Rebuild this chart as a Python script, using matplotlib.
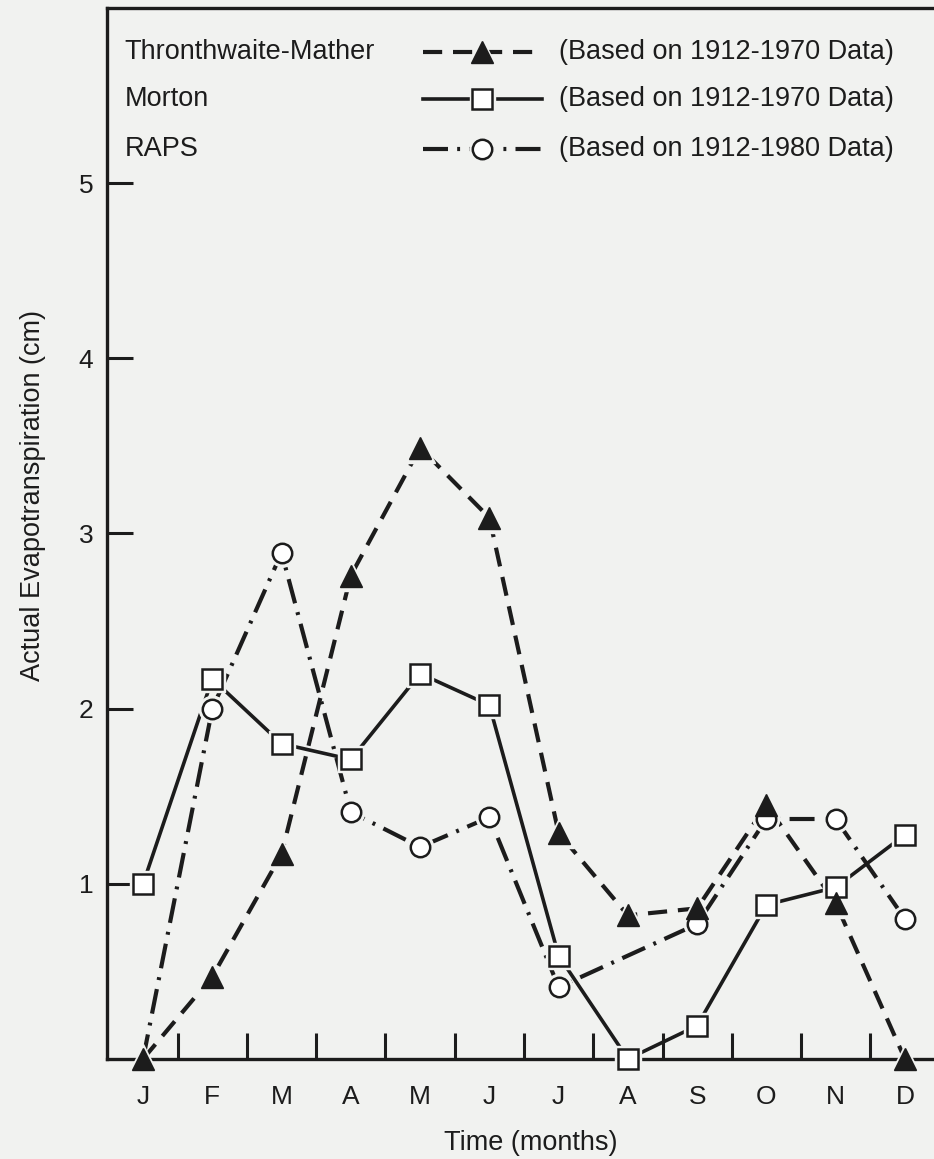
import matplotlib.pyplot as plt
import numpy as np

plt.rcParams['font.family'] = ['Liberation Sans', 'DejaVu Sans']

# Months and values (cm)
months = ['J', 'F', 'M', 'A', 'M', 'J', 'J', 'A', 'S', 'O', 'N', 'D']
tm_values = [0.0, 0.47, 1.17, 2.76, 3.49, 3.09, 1.29, 0.82, 0.86, 1.45, 0.89, 0.0]
morton_values = [1.0, 2.17, 1.80, 1.71, 2.20, 2.02, 0.59, 0.0, 0.19, 0.88, 0.98, 1.28]
# RAPS has no August point: the line runs from July straight to September
raps_months = [0, 1, 2, 3, 4, 5, 6, 8, 9, 10, 11]
raps_values = [0.0, 2.0, 2.89, 1.41, 1.21, 1.38, 0.41, 0.77, 1.37, 1.37, 0.80]

series_names = ['Thronthwaite-Mather', 'Morton', 'RAPS']
series_notes = ['(Based on 1912-1970 Data)', '(Based on 1912-1970 Data)',
                '(Based on 1912-1980 Data)']

ink = '#1c1c1c'
bg = '#f1f2f0'
fs = 19.5

lines = [
    dict(color=ink, lw=3.0, ls=(0, (4.6, 2.6)), solid_capstyle='butt'),
    dict(color=ink, lw=2.6, ls='-'),
    dict(color=ink, lw=3.0, ls=(0, (6.0, 2.2, 0.7, 2.2))),
]
marks = [
    dict(marker='^', ms=16, mfc=ink, mec=ink, mew=1.0),
    dict(marker='s', ms=14, mfc='white', mec=ink, mew=1.8),
    dict(marker='o', ms=14, mfc='white', mec=ink, mew=1.8),
]

fig = plt.figure(figsize=(9.34, 11.59), dpi=100, facecolor=bg)
ax = fig.add_axes([0.1146, 0.0863, 0.8854, 0.9068])
ax.set_facecolor(bg)

x = np.arange(len(months))
series = [(x, tm_values), (x, morton_values), (raps_months, raps_values)]
# the RAPS circle at January is hidden under the triangle in the print
every = [None, None, slice(1, None)]
for i, (xs, ys) in enumerate(series):
    ax.plot(xs, ys, zorder=3 + i * 0.1, clip_on=False, **lines[i])
for i, (xs, ys) in enumerate(series):
    # small halo so the lines stop short of the markers, as in the print
    ax.plot(xs, ys, ls='none', marker=marks[i]['marker'], ms=marks[i]['ms'] + 5,
            mfc=bg, mec=bg, markevery=every[i], zorder=4, clip_on=False)
# RAPS first, triangles last so they sit on top (O, N)
for i in [2, 1, 0]:
    xs, ys = series[i]
    ax.plot(xs, ys, ls='none', markevery=every[i], zorder=5, clip_on=False, **marks[i])

ax.set_xlim(-0.52, 11.42)
ax.set_ylim(0, 6.0)

# ticks: months labelled at points, tick marks between months, pointing inward
ax.set_xticks(x)
ax.set_xticklabels(months, fontsize=fs - 0.5, color=ink)
ax.set_xticks(np.arange(0.5, 11, 1), minor=True)
ax.tick_params(axis='x', which='major', length=0, pad=19)
ax.tick_params(axis='x', which='minor', direction='in', length=19, width=2.2, color=ink)
ax.set_yticks([1, 2, 3, 4, 5])
ax.set_yticklabels(['1', '2', '3', '4', '5'], fontsize=fs - 0.5, color=ink)
ax.tick_params(axis='y', direction='in', length=19, width=2.2, color=ink, pad=10)

for side in ['left', 'bottom', 'top']:
    ax.spines[side].set_linewidth(2.4)
    ax.spines[side].set_color(ink)
ax.spines['right'].set_visible(False)

ax.set_xlabel('Time (months)', fontsize=fs, color=ink)
ax.xaxis.set_label_coords(0.512, -0.068)
ax.set_ylabel('Actual Evapotranspiration (cm)', fontsize=fs, color=ink)
ax.yaxis.set_label_coords(-0.074, 0.536)

# legend block drawn in axes coordinates
rows_y = [0.958, 0.913, 0.866]
for i, yy in enumerate(rows_y):
    ax.text(0.021, yy, series_names[i], transform=ax.transAxes, fontsize=fs,
            color=ink, va='center', ha='left')
    ax.plot([0.382, 0.526], [yy, yy], transform=ax.transAxes, **lines[i])
    ax.plot([0.453], [yy], transform=ax.transAxes, ls='none',
            marker=marks[i]['marker'], ms=marks[i]['ms'] + 4, mfc=bg, mec=bg)
    ax.plot([0.453], [yy], transform=ax.transAxes, ls='none', **marks[i])
    ax.text(0.547, yy, series_notes[i], transform=ax.transAxes, fontsize=fs,
            color=ink, va='center', ha='left')

fig.savefig('out.png', dpi=100, facecolor=bg)
